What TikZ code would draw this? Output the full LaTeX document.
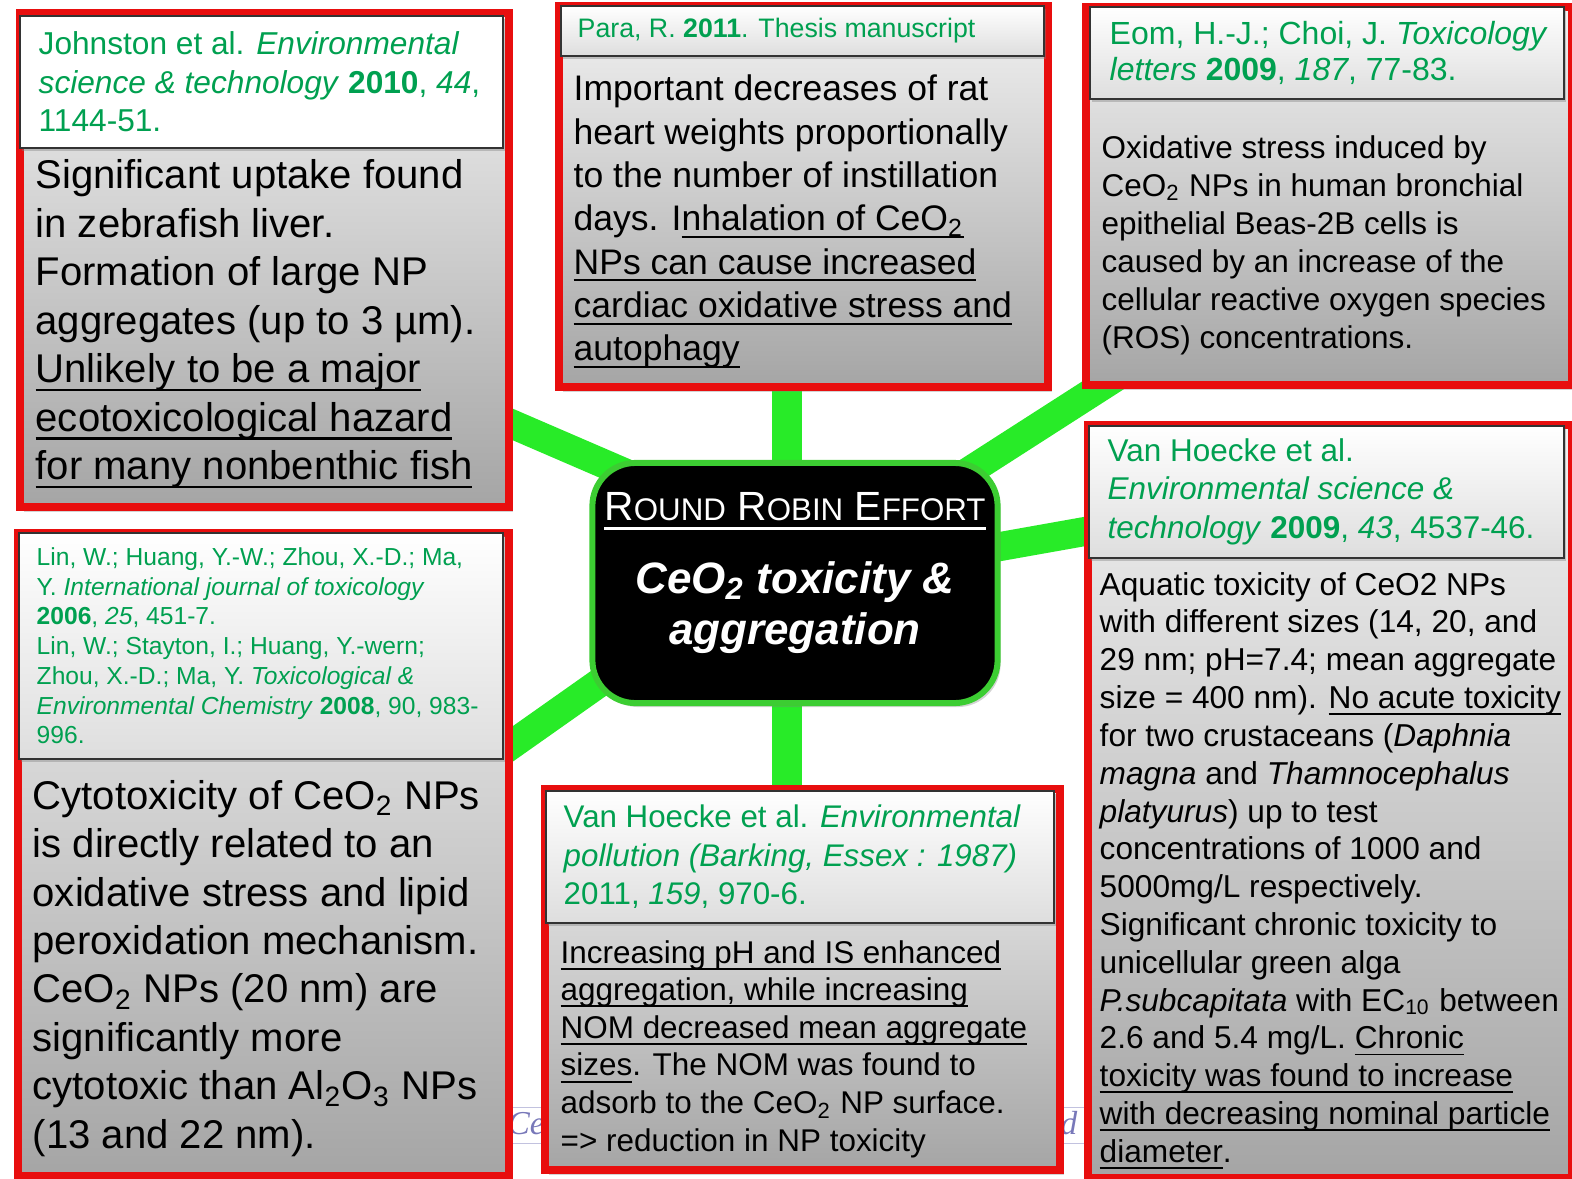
\documentclass[tikz,border=0pt]{standalone}
\usepackage{fontspec}
\setmainfont{Liberation Sans}
\newfontfamily\footserif{Liberation Serif}
\usetikzlibrary{positioning,shadows,backgrounds}

\definecolor{cardred}{RGB}{232,14,14}
\definecolor{citegreen}{RGB}{0,160,80}
\definecolor{connline}{RGB}{40,235,40}
\definecolor{hubgreen}{RGB}{60,205,50}
\definecolor{bodytop}{RGB}{242,242,242}
\definecolor{bodybot}{RGB}{165,165,165}
\definecolor{citebot}{RGB}{222,222,222}
\definecolor{footink}{RGB}{120,120,185}

\newcommand{\smallcap}[1]{{\fontsize{8.9}{10}\selectfont #1}}
% underline at a fixed depth below the baseline
\newcommand{\uln}[1]{\setbox0\hbox{#1}\rlap{\vrule width\wd0 height -0.15em depth 0.21em}\box0}

\tikzset{
  card/.style={draw=cardred, line width=0.08cm, top color=bodytop, bottom color=bodybot,
    anchor=north west, inner sep=0pt,
    drop shadow={shadow xshift=0.04cm, shadow yshift=-0.05cm, opacity=0.35}},
  head/.style={draw=black!80, line width=0.015cm, top color=white, bottom color=citebot,
    anchor=north west, inner sep=0pt,
    drop shadow={shadow xshift=0.02cm, shadow yshift=-0.03cm, opacity=0.4}},
  cite/.style={anchor=west, inner sep=0pt, align=left, text=citegreen},
  body/.style={anchor=north west, inner sep=0pt, align=left},
  conn/.style={draw=connline, line width=0.29cm},
  hub/.style={draw=hubgreen, line width=0.06cm, fill=black, rounded corners=0.43cm,
    drop shadow={shadow xshift=0.03cm, shadow yshift=-0.04cm, opacity=0.35}},
  hubtitle/.style={align=center, text=white, inner sep=0pt},
  footbox/.style={draw=footink!45, line width=0.01cm, anchor=north west, inner sep=0pt},
  footword/.style={text=footink, font=\footserif\itshape\fontsize{9.5}{11}\selectfont, inner sep=0pt},
}

\begin{document}
\begin{tikzpicture}[x=0.01cm,y=-0.01cm]
\useasboundingbox (0,0) rectangle (1572,1178);

% red frames
\node[card, minimum width=4.89cm, minimum height=4.94cm] (boxA) at (16,9) {};
\node[card, minimum width=4.89cm, minimum height=3.81cm] (boxB) at (555,2) {};
\node[card, minimum width=4.86cm, minimum height=3.78cm] (boxC) at (1082,3) {};
\node[card, minimum width=4.91cm, minimum height=6.43cm] (boxD) at (14,529) {};
\node[card, minimum width=5.15cm, minimum height=3.81cm] (boxE) at (541,785) {};
\node[card, minimum width=4.84cm, minimum height=7.53cm] (boxF) at (1084,421) {};

% reference headers
\node[head, minimum width=4.83cm, minimum height=1.32cm, top color=white, bottom color=white] (headA) at (19,15) {};
\node[head, minimum width=4.83cm, minimum height=0.50cm] (headB) at (560,5) {};
\node[head, minimum width=4.74cm, minimum height=0.92cm] (headC) at (1089,6) {};
\node[head, minimum width=4.84cm, minimum height=2.26cm] (headD) at (18,532) {};
\node[head, minimum width=5.08cm, minimum height=1.32cm] (headE) at (545,790) {};
\node[head, minimum width=4.75cm, minimum height=1.32cm] (headF) at (1088,425) {};

\node[cite, font=\fontsize{9}{10.9}\selectfont] (citeA) at ([xshift=0.19cm]headA.west)
  {Johnston et al. \textit{Environmental}\\
   \textit{science \& technology} \textbf{2010}, \textit{44},\\
   1144-51.};
\node[cite, font=\fontsize{7.6}{9}\selectfont] (citeB) at ([xshift=0.17cm]headB.west)
  {Para, R. \textbf{2011}. Thesis manuscript};
\node[cite, font=\fontsize{9.1}{10.4}\selectfont] (citeC) at ([xshift=0.20cm]headC.west)
  {Eom, H.-J.; Choi, J. \textit{Toxicology}\\
   \textit{letters} \textbf{2009}, \textit{187}, 77-83.};
\node[cite, font=\fontsize{7}{8.45}\selectfont] (citeD) at ([xshift=0.18cm]headD.west)
  {Lin, W.; Huang, Y.-W.; Zhou, X.-D.; Ma,\\
   Y. \textit{International journal of toxicology}\\
   \textbf{2006}, \textit{25}, 451-7.\\
   Lin, W.; Stayton, I.; Huang, Y.-wern;\\
   Zhou, X.-D.; Ma, Y. \textit{Toxicological \&}\\
   \textit{Environmental Chemistry} \textbf{2008}, 90, 983-\\
   996.};
\node[cite, font=\fontsize{8.9}{10.9}\selectfont] (citeE) at ([xshift=0.18cm]headE.west)
  {Van Hoecke et al. \textit{Environmental}\\
   \textit{pollution (Barking, Essex : 1987)}\\
   2011, \textit{159}, 970-6.};
\node[cite, font=\fontsize{8.95}{10.9}\selectfont] (citeF) at ([xshift=0.19cm]headF.west)
  {Van Hoecke et al.\\
   \textit{Environmental science \&}\\
   \textit{technology} \textbf{2009}, \textit{43}, 4537-46.};

% findings
\node[body, font=\fontsize{11.4}{13.8}\selectfont] (txtA) at (35,154)
  {\strut Significant uptake found\\
   in zebrafish liver.\\
   Formation of large NP\\
   aggregates (up to 3 µm).\\
   \uln{Unlikely to be a major}\\
   \uln{ecotoxicological hazard}\\
   \uln{for many nonbenthic fish}};
\node[body, font=\fontsize{10.1}{12.3}\selectfont] (txtB) at (573,70)
  {\strut Important decreases of rat\\
   heart weights proportionally\\
   to the number of instillation\\
   days. I\uln{nhalation of CeO\textsubscript{2}}\\
   \uln{NPs can cause increased}\\
   \uln{cardiac oxidative stress and}\\
   \uln{autophagy}};
\node[body, font=\fontsize{8.95}{10.8}\selectfont] (txtC) at (1101,131)
  {\strut Oxidative stress induced by\\
   CeO\textsubscript{2} NPs in human bronchial\\
   epithelial Beas-2B cells is\\
   caused by an increase of the\\
   cellular reactive oxygen species\\
   (ROS) concentrations.};
\node[body, font=\fontsize{11.4}{13.75}\selectfont] (txtD) at (32,775)
  {\strut Cytotoxicity of CeO\textsubscript{2} NPs\\
   is directly related to an\\
   oxidative stress and lipid\\
   peroxidation mechanism.\\
   CeO\textsubscript{2} NPs (20 nm) are\\
   significantly more\\
   cytotoxic than Al\textsubscript{2}O\textsubscript{3} NPs\\
   (13 and 22 nm).};
\node[body, font=\fontsize{8.94}{10.7}\selectfont] (txtE) at (560,936)
  {\strut\uln{Increasing pH and IS enhanced}\\
   \uln{aggregation, while increasing}\\
   \uln{NOM decreased mean aggregate}\\
   \uln{sizes}. The NOM was found to\\
   adsorb to the CeO\textsubscript{2} NP surface.\\
   => reduction in NP toxicity};
\node[body, font=\fontsize{9}{10.75}\selectfont] (txtF) at (1099,568)
  {\strut Aquatic toxicity of CeO2 NPs\\
   with different sizes (14, 20, and\\
   29 nm; pH=7.4; mean aggregate\\
   size = 400 nm). \uln{No acute toxicity}\\
   for two crustaceans (\textit{Daphnia}\\
   \textit{magna} and \textit{Thamnocephalus}\\
   \textit{platyurus}) up to test\\
   concentrations of 1000 and\\
   5000mg/L respectively.\\
   Significant chronic toxicity to\\
   unicellular green alga\\
   \textit{P.subcapitata} with EC\textsubscript{10} between\\
   2.6 and 5.4 mg/L. \uln{Chronic}\\
   \uln{toxicity was found to increase}\\
   \uln{with decreasing nominal particle}\\
   \uln{diameter}.};

% central topic
\node[hub, minimum width=4.05cm, minimum height=2.40cm] (hub) at (795,583) {};
\node[hubtitle, font=\fontsize{12.5}{14.5}\selectfont] (title) at ([yshift=0.1cm]hub.center)
  {{\fontsize{11.6}{14}\selectfont\uln{R\smallcap{OUND} R\smallcap{OBIN} E\smallcap{FFORT}}}\\[6pt]
   {\bfseries\itshape CeO\textsubscript{2} toxicity \&}\\
   {\bfseries\itshape aggregation}};

\begin{scope}[on background layer]
  \node[footbox, minimum width=5.85cm, minimum height=0.36cm] (foot) at (505,1107) {};
  \node[footword, anchor=base west] (footCe) at (507,1134) {Ce};
  \node[footword, anchor=base east] (footnd) at (1078,1134) {nd};
  % links to the hub
  \coordinate (aA) at (470,406);
  \coordinate (aB) at (787,370);
  \coordinate (aC) at (1130,368);
  \coordinate (aD) at (480,767);
  \coordinate (aE) at (787,800);
  \coordinate (aF) at (1110,527);
  \draw[conn] ([shift={(45,17)}]hub.north west) -- (aA);
  \draw[conn] (hub.center -| aB) -- (aB);
  \draw[conn] (hub.center) -- (aC);
  \draw[conn] ([shift={(48,73)}]hub.west) -- (aD);
  \draw[conn] (hub.center -| aE) -- (aE);
  \draw[conn] (hub.center) -- (aF);
\end{scope}
\end{tikzpicture}
\end{document}
